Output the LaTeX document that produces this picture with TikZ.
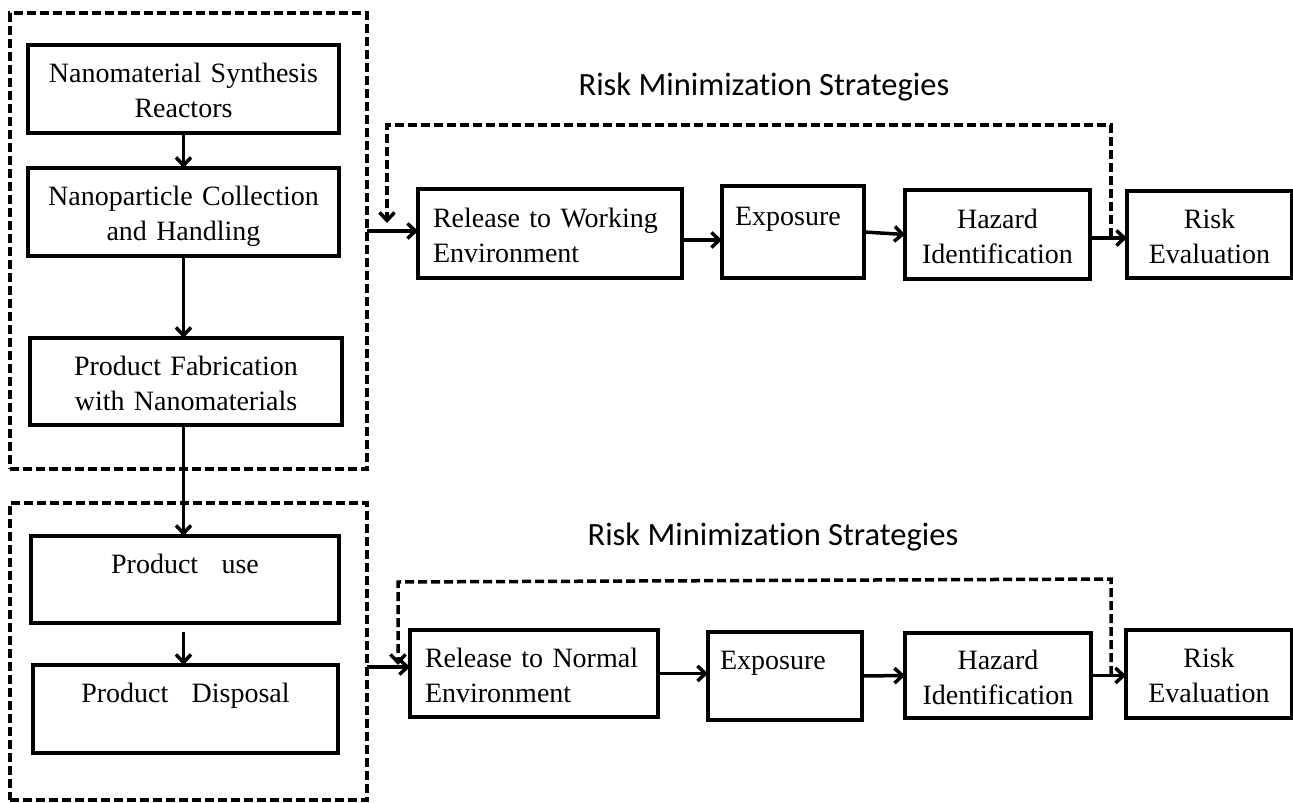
\documentclass[tikz,border=0pt]{standalone}
\usepackage{fontspec}
\setmainfont{Liberation Serif}
\newfontfamily\titlefont[Ligatures={NoCommon,NoContextual}]{Carlito}
\usetikzlibrary{arrows.meta}
\newcommand\bstrut{\rule[-6.5pt]{0pt}{35pt}}
\begin{document}
\begin{tikzpicture}[x=1pt,y=-1pt,
  bx/.style={draw, line width=3.5pt, inner sep=0pt, outer sep=0pt,
    font=\fontsize{28}{35}\selectfont, align=center},
  grp/.style={draw, line width=3.2pt, dash pattern=on 9pt off 4pt, inner sep=0pt, outer sep=0pt},
  arr/.style={line width=3.5pt, -{Straight Barb[length=8pt,width=15pt]}},
  fb/.style={line width=3.5pt, dash pattern=on 9pt off 4pt, -{Straight Barb[length=8pt,width=15pt]}},
  ttl/.style={font=\titlefont\fontsize{32.5}{38}\selectfont, anchor=base, inner sep=0pt}
]
\useasboundingbox (0,0) rectangle (1293,803);

% group frames
\node[grp, minimum width=357pt, minimum height=456pt] (grp1) at (188.5,241) {};
\node[grp, minimum width=357pt, minimum height=297pt] (grp2) at (188.5,651.5) {};

% left column
\node[bx, minimum width=311pt, minimum height=88pt, text width=300pt] (b1) at (183.5,89)
  {\bstrut Nanomaterial Synthesis\\\bstrut Reactors};
\node[bx, minimum width=311pt, minimum height=88pt, text width=300pt] (b2) at (183.5,212)
  {\bstrut Nanoparticle Collection\\\bstrut and Handling};
\node[bx, minimum width=312pt, minimum height=87pt, text width=300pt] (b3) at (186,381.5)
  {\bstrut Product Fabrication\\\bstrut with Nanomaterials};
\node[bx, minimum width=308pt, minimum height=87pt, text width=296pt] (pu) at (185,579.5)
  {\bstrut Product\hspace{0.5em} use\\\bstrut};
\node[bx, minimum width=305pt, minimum height=88pt, text width=294pt] (pd) at (185.5,709)
  {\bstrut Product\hspace{0.5em} Disposal\\\bstrut};

% top row
\node[bx, align=left, minimum width=264pt, minimum height=89pt, text width=234pt] (rel1) at (550,233.5)
  {\bstrut Release to Working\\\bstrut Environment};
\node[bx, align=left, minimum width=142pt, minimum height=92pt, text width=116pt] (exp1) at (793,232)
  {\bstrut Exposure\\\bstrut};
\node[bx, minimum width=185pt, minimum height=89pt, text width=175pt] (hz1) at (997.5,234.5)
  {\bstrut Hazard\\\bstrut Identification};
\node[bx, minimum width=165pt, minimum height=87pt, text width=155pt] (rk1) at (1209.5,234.5)
  {\bstrut Risk\\\bstrut Evaluation};

% bottom row
\node[bx, align=left, minimum width=248pt, minimum height=87pt, text width=218pt] (rel2) at (534,673.5)
  {\bstrut Release to Normal\\\bstrut Environment};
\node[bx, align=left, minimum width=154pt, minimum height=88pt, text width=130pt] (exp2) at (785,676)
  {\bstrut Exposure\\\bstrut};
\node[bx, minimum width=186pt, minimum height=85pt, text width=176pt] (hz2) at (998,675.5)
  {\bstrut Hazard\\\bstrut Identification};
\node[bx, minimum width=166pt, minimum height=88pt, text width=156pt] (rk2) at (1209,674)
  {\bstrut Risk\\\bstrut Evaluation};

% titles
\node[ttl] (t1) at (764,95) {Risk Minimization Strategies};
\node[ttl] (t2) at (773,545) {Risk Minimization Strategies};

% left column connectors
\draw[arr] (b1.south) -- (b1.south |- b2.north);
\draw[arr] (b2.south) -- (b2.south |- b3.north);
\draw[arr] (b2.south |- b3.south) -- (b2.south |- pu.north);
\draw[arr] ([yshift=-9pt]pu.south -| b2.south) -- (b2.south |- pd.north);

% top row connectors
\draw[arr] ([yshift=2.5pt]rel1.west -| grp1.east) -- ([yshift=2.5pt]rel1.west);
\draw[arr] ([yshift=-6.5pt]rel1.east) -- ([yshift=-6.5pt]rel1.east -| exp1.west);
\draw[arr] (exp1.east) -- (hz1.west);
\draw[arr] ([yshift=-3.5pt]hz1.east) -- ([yshift=-3.5pt]hz1.east -| rk1.west);

% bottom row connectors
\draw[arr] ([yshift=6.5pt]rel2.west -| grp2.east) -- ([yshift=6.5pt]rel2.west);
\draw[arr] (rel2.east) -- (rel2.east -| exp2.west);
\draw[arr] (exp2.east) -- (hz2.west);
\draw[arr] (hz2.east) -- (hz2.east -| rk2.west);

% feedback loops
\coordinate (fb1s) at (1111,237);
\coordinate (fb1a) at (1111,125);
\coordinate (fb1b) at (387,125);
\coordinate (fb1e) at (387,223);
\draw[fb] (fb1s) -- (fb1a) -- (fb1b) -- (fb1e);

\coordinate (fb2s) at (1111,675);
\coordinate (fb2a) at (1111,579);
\coordinate (fb2b) at (398,582);
\coordinate (fb2e) at (398,665);
\draw[fb] (fb2s) -- (fb2a) -- (fb2b) -- (fb2e);
\end{tikzpicture}
\end{document}
